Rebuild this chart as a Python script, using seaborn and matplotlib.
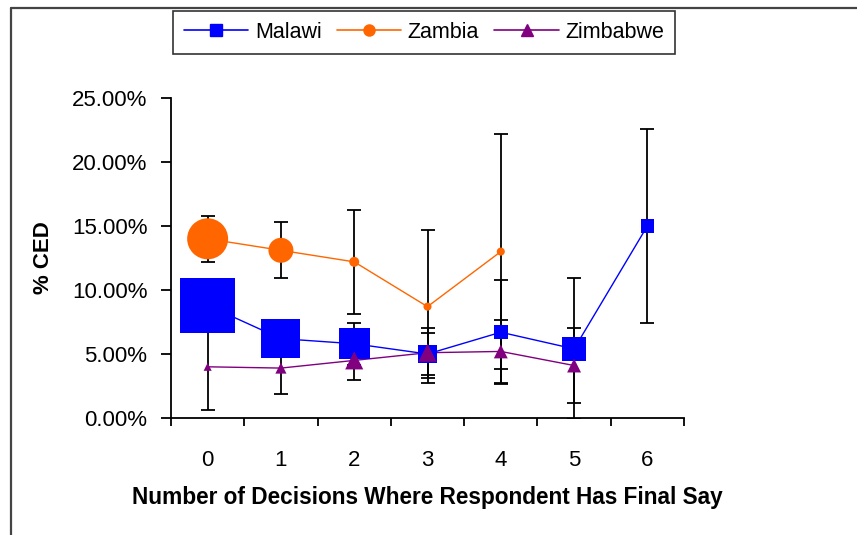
import numpy as np
import pandas as pd
import matplotlib
matplotlib.use("Agg")
import matplotlib.pyplot as plt
import seaborn as sns
from matplotlib.lines import Line2D

# data (percent CED by number of decisions)
decisions = [0, 1, 2, 3, 4, 5, 6]
malawi = [8.8, 6.2, 5.8, 5.0, 6.7, 5.4, 15.0]
malawi_err = [1.9, 1.3, 1.65, 1.65, 4.05, 5.5, 7.6]
zambia = [14.0, 13.1, 12.2, 8.7, 13.0]
zambia_err = [1.8, 2.2, 4.05, 5.95, 9.15]
zimbabwe = [4.0, 3.9, 4.5, 5.1, 5.2, 4.1]
zimbabwe_err = [3.4, 2.0, 1.5, 1.95, 2.45, 2.9]
# marker widths (pt) - point size varies per group in the original
malawi_marker = [39.6, 28, 22.3, 13, 10, 17.3, 9.4]
zambia_marker = [29.5, 18, 7.2, 5.8, 5.8]
zimbabwe_marker = [5.8, 8, 13, 13, 10, 10]

series = [
    ("Malawi", malawi, malawi_err, malawi_marker, "#0000FF", "s"),
    ("Zambia", zambia, zambia_err, zambia_marker, "#FF6600", "o"),
    ("Zimbabwe", zimbabwe, zimbabwe_err, zimbabwe_marker, "#800080", "^"),
]

rows = []
for name, vals, errs, sizes, col, mk in series:
    for i, v in enumerate(vals):
        rows.append({"country": name, "x": decisions[i], "ced": v, "err": errs[i], "ms": sizes[i]})
df = pd.DataFrame(rows)

sns.set_style("ticks")
plt.rcParams["font.family"] = ["Liberation Sans", "DejaVu Sans"]
plt.rcParams["text.color"] = "black"
plt.rcParams["axes.labelcolor"] = "black"
plt.rcParams["xtick.color"] = "black"
plt.rcParams["ytick.color"] = "black"

fig = plt.figure(figsize=(8.57, 5.35), dpi=100)
ax = fig.add_axes([171 / 857, 1 - 418 / 535, 513 / 857, 320 / 535])

palette = {name: col for name, _, _, _, col, _ in series}

# error bars (behind everything)
for name, vals, errs, sizes, col, mk in series:
    sub = df[df.country == name]
    ax.errorbar(sub.x, sub.ced, yerr=sub.err, fmt="none", ecolor="black",
                elinewidth=1.3, capsize=5, capthick=1.3, zorder=2)

sns.lineplot(data=df, x="x", y="ced", hue="country", palette=palette,
             linewidth=1.0, legend=False, ax=ax, zorder=3)

for name, vals, errs, sizes, col, mk in series:
    sub = df[df.country == name]
    sns.scatterplot(data=sub, x="x", y="ced", color=col, marker=mk,
                    s=np.array(sub.ms) ** 2, linewidth=0, ax=ax, zorder=4)

ax.set_xlim(-0.5, 6.5)
ax.set_ylim(0, 25)
ax.set_yticks([0, 5, 10, 15, 20, 25])
ax.set_yticklabels([f"{v:.2f}%" for v in [0, 5, 10, 15, 20, 25]])
ax.set_xticks(decisions)
ax.set_xticklabels([str(d) for d in decisions])
ax.set_xticks(np.arange(-0.5, 7, 1), minor=True)
ax.tick_params(axis="x", which="major", length=0, pad=23, labelsize=16)
ax.tick_params(axis="x", which="minor", length=6, width=1.3, direction="out")
ax.tick_params(axis="y", length=7, width=1.3, labelsize=16, pad=10)
for s in ["top", "right"]:
    ax.spines[s].set_visible(False)
for s in ["left", "bottom"]:
    ax.spines[s].set_linewidth(1.3)
    ax.spines[s].set_color("black")

ax.set_xlabel("Number of Decisions Where Respondent Has Final Say",
              fontsize=16.3, fontweight="bold", labelpad=11)
ax.set_ylabel("% CED", fontsize=16, fontweight="bold", labelpad=13)

handles = [Line2D([0], [0], color=col, marker=mk, markersize=8, linewidth=1.2)
           for name, _, _, _, col, mk in series]
leg = fig.legend(handles, [s[0] for s in series], loc="center",
                 bbox_to_anchor=(424 / 857, 1 - 32.5 / 535), ncol=3,
                 frameon=True, fancybox=False, fontsize=15.5, handlelength=3,
                 handletextpad=0.3, columnspacing=0.7, borderpad=0.5)
leg.get_frame().set_edgecolor("black")
leg.get_frame().set_linewidth(1.2)

# outer chart border (top and left only visible)
fig.add_artist(Line2D([10.5 / 857, 10.5 / 857], [0, 1 - 7.5 / 535], color="#444444", linewidth=1.6))
fig.add_artist(Line2D([10.5 / 857, 1], [1 - 7.5 / 535, 1 - 7.5 / 535], color="#444444", linewidth=1.6))

plt.savefig("out.png", dpi=100)
